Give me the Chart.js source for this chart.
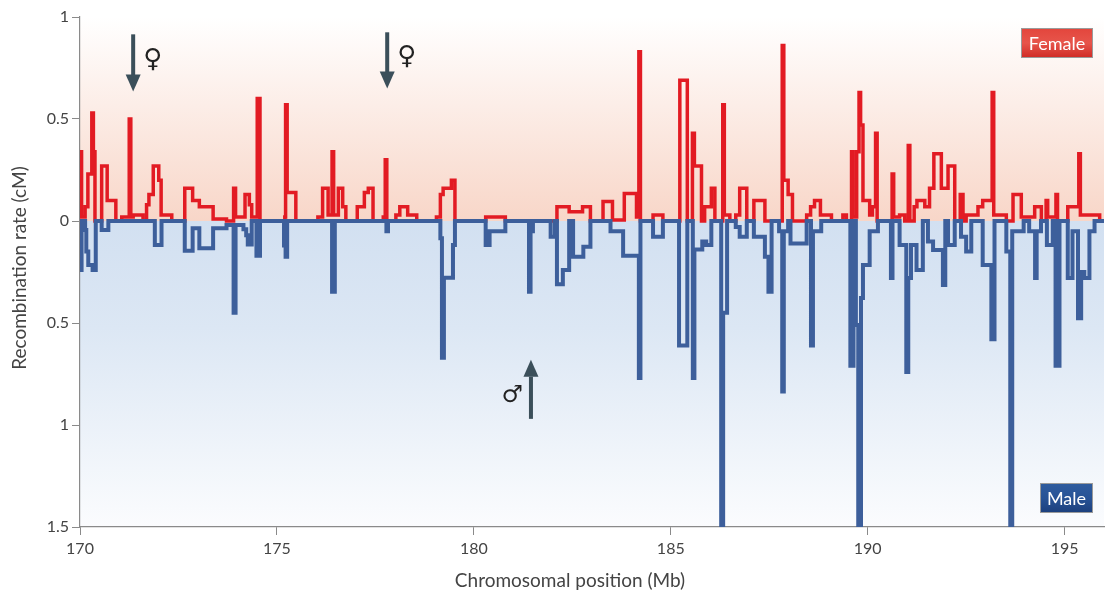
<!DOCTYPE html>
<html><head><meta charset="utf-8">
<script src="https://cdn.jsdelivr.net/npm/chart.js@4.4.1/dist/chart.umd.min.js"></script>
<style>html,body{margin:0;padding:0;background:#fff;}canvas{display:block;}</style>
</head><body>
<canvas id="c" width="1106" height="598"></canvas>
<script>
// ---- data ----
const xTicks = [170, 175, 180, 185, 190, 195];
const yTicks = [1, 0.5, 0, -0.5, -1, -1.5];

// Female recombination rate (cM): value holds from position to next position (Mb)
const femalePos = [170.00,170.04,170.13,170.20,170.30,170.34,170.38,170.55,170.69,170.91,171.06,171.25,171.29,171.35,171.60,171.69,171.75,171.86,172.00,172.06,172.33,172.66,172.86,173.03,173.38,173.72,173.90,173.95,174.19,174.30,174.36,174.50,174.57,175.20,175.22,175.26,175.48,176.04,176.16,176.30,176.40,176.44,176.56,176.67,176.75,177.04,177.22,177.32,177.44,177.70,177.75,177.79,178.02,178.12,178.32,178.55,179.05,179.15,179.22,179.43,179.52,180.30,180.80,182.11,182.42,182.76,182.96,183.28,183.52,183.82,184.13,184.19,184.23,184.55,184.80,185.23,185.42,185.55,185.60,185.78,185.86,186.03,186.12,186.32,186.36,186.50,186.65,186.75,186.93,187.11,187.39,187.83,187.87,187.98,188.09,188.45,188.55,188.65,188.80,189.08,189.37,189.46,189.59,189.63,189.72,189.78,189.82,189.88,190.05,190.12,190.20,190.24,190.62,190.66,190.81,190.94,191.03,191.07,191.18,191.25,191.45,191.57,191.68,191.87,192.04,192.21,192.35,192.42,192.50,192.80,192.92,193.16,193.20,193.52,193.69,193.90,194.24,194.41,194.53,194.57,194.78,194.82,195.08,195.36,195.40,195.89,196.00];
const femaleRate = [0.34,0.02,0.07,0.23,0.53,0.34,0,0.27,0.10,0,0.02,0.50,0.02,0.03,0,0.08,0.13,0.27,0.20,0.03,0,0.16,0.10,0.07,0.01,0,0.16,0.02,0.13,0.08,0.02,0.60,0,0.02,0.57,0.14,0,0.02,0.16,0.03,0.34,0.03,0.16,0.07,0,0.07,0.14,0.16,0,0.02,0.30,0,0.03,0.07,0.03,0,0.02,0.13,0.16,0.20,0,0.02,0,0.07,0.045,0.07,0,0.095,0.005,0.135,0.02,0.83,0,0.03,0,0.69,0,0.43,0.27,0,0.07,0.16,0,0.57,0.03,0,0.03,0.16,0,0.10,0,0.86,0.20,0.13,0,0.03,0.07,0.10,0.03,0,0.03,0,0.34,0.02,0.34,0.63,0.47,0.10,0.03,0.07,0.43,0,0.23,0.02,0.03,0,0.37,0,0.07,0.10,0.07,0.16,0.33,0.16,0.27,0,0.13,0,0.03,0.07,0.10,0.63,0.03,0,0.13,0.02,0.07,0,0.10,0.02,0.13,0,0.07,0.33,0.03,0,0];

// Male recombination rate (cM), plotted downward
const malePos = [170.00,170.04,170.13,170.16,170.21,170.32,170.40,170.55,170.72,171.90,172.07,172.66,172.86,173.03,173.38,173.72,173.90,173.95,174.15,174.22,174.26,174.36,174.48,174.57,175.18,175.22,175.26,176.40,176.47,177.78,177.82,179.15,179.19,179.24,179.47,179.52,180.30,180.40,180.80,181.40,181.44,181.50,181.95,182.06,182.11,182.26,182.42,182.52,182.78,182.96,183.47,183.79,184.19,184.23,184.55,184.80,185.21,185.42,185.56,185.60,185.80,185.90,186.03,186.28,186.33,186.43,186.65,186.75,186.93,187.11,187.39,187.48,187.56,187.75,187.83,187.87,187.98,188.04,188.45,188.56,188.61,188.82,189.56,189.64,189.70,189.76,189.83,189.88,190.05,190.26,190.59,190.63,190.81,190.98,191.03,191.10,191.24,191.40,191.53,191.66,191.91,191.97,192.04,192.21,192.37,192.50,192.63,192.92,193.14,193.22,193.52,193.62,193.67,193.96,194.10,194.25,194.29,194.40,194.55,194.70,194.77,194.87,195.08,195.20,195.34,195.42,195.50,195.63,195.76,196.00];
const maleRate = [0.24,0,0.044,0.15,0.216,0.24,0,0.044,0,0.118,0,0.146,0.035,0.133,0.035,0.02,0.45,0.02,0.04,0.07,0.115,0,0.17,0,0.12,0.175,0,0.347,0,0.05,0,0.085,0.67,0.278,0.118,0,0.118,0.05,0,0.347,0.05,0,0.077,0,0.31,0.24,0,0.175,0.126,0,0.05,0.17,0.77,0,0.077,0,0.61,0,0.77,0.14,0.10,0.118,0,1.5,0.45,0,0.03,0.077,0,0.077,0.175,0.347,0,0.05,0.836,0.05,0,0.11,0,0.61,0.05,0,0.71,0,0.51,1.5,0.378,0.216,0.05,0,0.28,0,0.118,0.74,0.28,0.118,0.24,0,0.10,0.142,0.314,0,0.118,0,0.077,0.15,0,0.216,0.58,0,0.15,1.5,0.05,0,0.05,0.28,0.05,0,0.118,0,0.71,0,0.28,0.05,0.477,0.25,0.28,0.05,0,0];

// annotations: sex-specific hotspot arrows {x (Mb), from/to (cM on plot scale), symbol}
const arrows = [
  {x: 171.35, from: 0.915, to: 0.635, sym: '\u2640'},
  {x: 177.80, from: 0.925, to: 0.650, sym: '\u2640'},
  {x: 181.45, from: -0.965, to: -0.680, sym: '\u2642'}
];

const RED = '#e21b23';
const BLUE = '#3d5f9b';
const FONT = "Lato, 'Open Sans', sans-serif";

const bgPlugin = {
  id: 'bg',
  beforeDraw(chart) {
    const {ctx, chartArea: a, scales: {y}} = chart;
    const y0 = y.getPixelForValue(0);
    ctx.save();
    let g = ctx.createLinearGradient(0, a.top, 0, y0);
    g.addColorStop(0, '#ffffff');
    g.addColorStop(0.15, '#fef9f7');
    g.addColorStop(1, '#f8d6c8');
    ctx.fillStyle = g;
    ctx.fillRect(a.left, a.top, a.right - a.left, y0 - a.top);
    g = ctx.createLinearGradient(0, y0, 0, a.bottom);
    g.addColorStop(0, '#d2e0f1');
    g.addColorStop(0.35, '#dce7f4');
    g.addColorStop(1, '#fbfcfe');
    ctx.fillStyle = g;
    ctx.fillRect(a.left, y0, a.right - a.left, a.bottom - y0);
    ctx.restore();
  }
};

const annoPlugin = {
  id: 'anno',
  afterDatasetsDraw(chart) {
    const {ctx, scales: {x, y}} = chart;
    ctx.save();
    arrows.forEach(a => {
      const px = x.getPixelForValue(a.x);
      const p0 = y.getPixelForValue(a.from);
      const p1 = y.getPixelForValue(a.to);
      const dir = p1 > p0 ? 1 : -1;
      const headLen = 17, headW = 7.5;
      ctx.fillStyle = '#3b4f5a';
      ctx.fillRect(px - 2, Math.min(p0, p1 - dir * headLen), 4, Math.abs(p1 - dir * headLen - p0) + 1);
      ctx.beginPath();
      ctx.moveTo(px, p1);
      ctx.lineTo(px - headW, p1 - dir * headLen);
      ctx.lineTo(px + headW, p1 - dir * headLen);
      ctx.closePath();
      ctx.fill();
      ctx.fillStyle = '#222';
      ctx.textBaseline = 'middle';
      if (a.sym === '\u2640') {
        ctx.font = "26px 'DejaVu Sans'";
        ctx.textAlign = 'left';
        ctx.fillText(a.sym, px + 10, (p0 + p1) / 2 - 3);
      } else {
        ctx.font = "24px 'DejaVu Sans'";
        ctx.textAlign = 'right';
        ctx.fillText(a.sym, px - 8, Math.max(p0, p1) - 22);
      }
    });
    ctx.restore();
  },
  afterDraw(chart) {
    const {ctx, chartArea: a} = chart;
    ctx.save();
    // legend boxes
    function box(x0, y0, w, h, c1, c2, c3, label) {
      const g = ctx.createLinearGradient(0, y0, 0, y0 + h);
      g.addColorStop(0, c1); g.addColorStop(0.5, c2); g.addColorStop(1, c3);
      ctx.fillStyle = g;
      ctx.fillRect(x0, y0, w, h);
      ctx.strokeStyle = '#9a9a9a';
      ctx.lineWidth = 1;
      ctx.strokeRect(x0 + 0.5, y0 + 0.5, w - 1, h - 1);
      ctx.fillStyle = '#ffffff';
      ctx.font = '18px ' + FONT;
      ctx.textAlign = 'center';
      ctx.textBaseline = 'middle';
      ctx.fillText(label, x0 + w / 2, y0 + h / 2 + 1);
    }
    box(1021, 28, 72, 30, '#e3453c', '#e7554b', '#cf2a25', 'Female');
    box(1040, 483, 53, 30, '#2f5c9e', '#285396', '#1c3f7c', 'Male');
    // axis titles
    ctx.fillStyle = '#444';
    ctx.font = '19px ' + FONT;
    ctx.textAlign = 'center';
    ctx.textBaseline = 'middle';
    ctx.fillText('Chromosomal position (Mb)', 570, 581);
    ctx.translate(20, 268);
    ctx.rotate(-Math.PI / 2);
    ctx.fillText('Recombination rate (cM)', 0, 0);
    ctx.restore();
  }
};

const femaleData = femalePos.map((p, i) => ({x: p, y: femaleRate[i]}));
const maleData = malePos.map((p, i) => ({x: p, y: -maleRate[i]}));

new Chart(document.getElementById('c'), {
  type: 'line',
  data: {
    datasets: [
      {label: 'Female', data: femaleData, stepped: 'before', borderColor: RED, borderWidth: 3.5,
       pointRadius: 0, fill: false, order: 2, borderJoinStyle: 'miter'},
      {label: 'Male', data: maleData, stepped: 'before', borderColor: BLUE, borderWidth: 4,
       pointRadius: 0, fill: false, order: 1, borderJoinStyle: 'miter'}
    ]
  },
  options: {
    responsive: false,
    animation: false,
    devicePixelRatio: 1,
    layout: {padding: {left: 0, right: 2, top: 17, bottom: 0}},
    plugins: {legend: {display: false}, tooltip: {enabled: false}},
    scales: {
      x: {
        type: 'linear', min: 170, max: 196,
        afterBuildTicks: s => { s.ticks = xTicks.map(v => ({value: v})); },
        afterFit: s => { s.height = 71; },
        ticks: {font: {family: FONT, size: 16}, color: '#444', padding: 4, maxRotation: 0},
        grid: {drawOnChartArea: false, drawTicks: true, tickLength: 8, color: '#8a8a8a'},
        border: {color: '#8a8a8a', width: 1.2}
      },
      y: {
        type: 'linear', min: -1.5, max: 1,
        afterBuildTicks: s => { s.ticks = yTicks.map(v => ({value: v})); },
        afterFit: s => { s.width = 80; },
        ticks: {font: {family: FONT, size: 16}, color: '#444', padding: 3,
                callback: v => String(Math.abs(v))},
        grid: {drawOnChartArea: false, drawTicks: true, tickLength: 8, color: '#8a8a8a'},
        border: {color: '#8a8a8a', width: 1.2}
      }
    }
  },
  plugins: [bgPlugin, annoPlugin]
});
</script>
</body></html>
